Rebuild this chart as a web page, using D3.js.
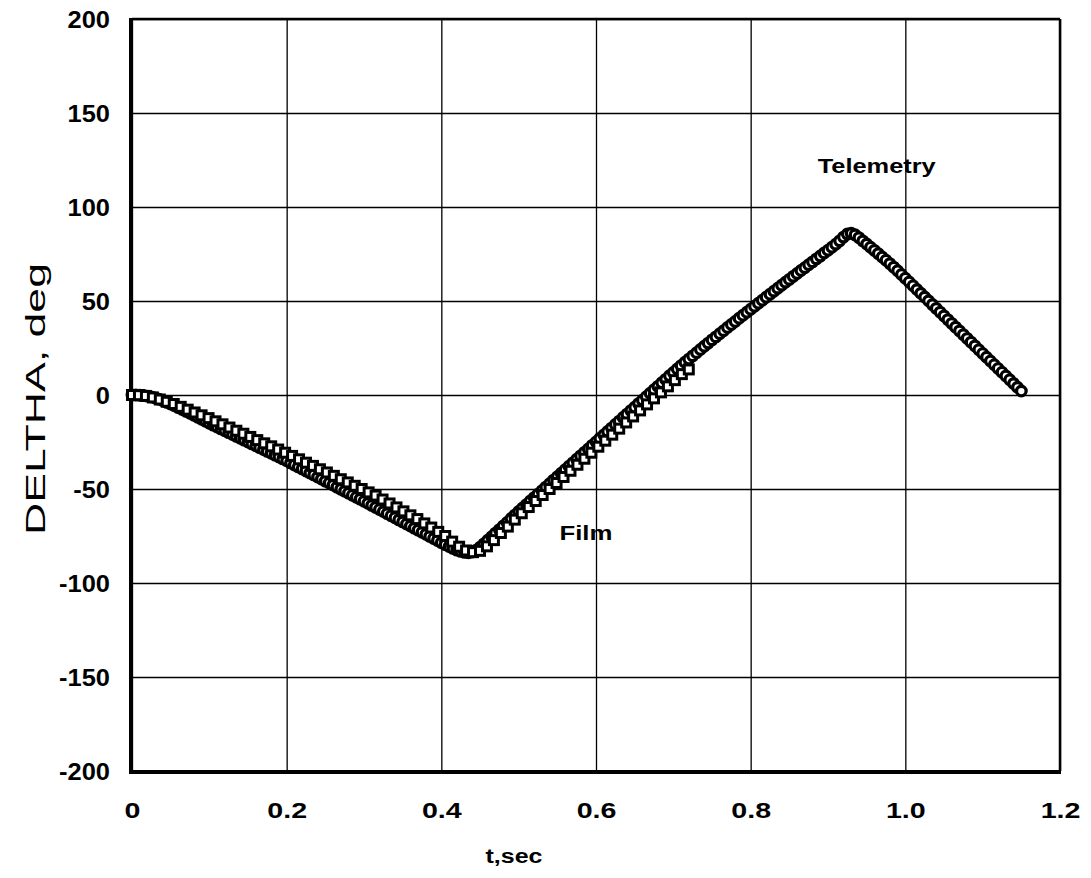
<!DOCTYPE html>
<html>
<head>
<meta charset="utf-8">
<script src="https://cdn.jsdelivr.net/npm/d3@7"></script>
<style>
  html, body { margin: 0; padding: 0; background: #fff; }
  svg { display: block; }
  text { font-family: "Liberation Sans", Arial, Helvetica, sans-serif; fill: #000; }
</style>
</head>
<body>
<svg id="chart" width="1091" height="878"></svg>
<script>
// Axis ticks
const xTicks = [0, 0.2, 0.4, 0.6, 0.8, 1.0, 1.2];
const xTickLabels = ["0", "0.2", "0.4", "0.6", "0.8", "1.0", "1.2"];
const yTicks = [-200, -150, -100, -50, 0, 50, 100, 150, 200];
const yTickLabels = ["-200", "-150", "-100", "-50", "0", "50", "100", "150", "200"];

// Telemetry: DELTHA (deg), sampled every 0.005 s from t = 0
const telemetryStart = 0;
const telemetryStep = 0.005;
const telemetryDeltha = [
  0.0, 0.0, -0.1, -0.3, -0.6, -1.0, -1.6, -2.2, -3.0, -3.9,
  -4.8, -5.7, -6.7, -7.7, -8.7, -9.7, -10.8, -11.8, -12.9, -13.9,
  -15.0, -16.0, -17.0, -18.0, -19.0, -20.0, -21.0, -22.0, -23.0, -24.0,
  -25.0, -26.0, -27.0, -28.0, -29.0, -30.0, -31.0, -32.0, -33.0, -34.0,
  -35.0, -36.1, -37.2, -38.2, -39.3, -40.4, -41.5, -42.5, -43.6, -44.7,
  -45.8, -46.8, -47.9, -49.0, -50.1, -51.1, -52.2, -53.3, -54.4, -55.4,
  -56.5, -57.6, -58.7, -59.8, -60.9, -62.0, -63.1, -64.2, -65.3, -66.4,
  -67.5, -68.6, -69.7, -70.8, -71.9, -73.0, -74.1, -75.2, -76.3, -77.4,
  -78.5, -79.6, -80.6, -81.6, -82.5, -83.2, -83.7, -83.9, -83.5, -82.5,
  -81.0, -79.2, -77.3, -75.4, -73.5, -71.6, -69.7, -67.8, -65.8, -63.9,
  -62.0, -60.1, -58.3, -56.4, -54.6, -52.7, -50.9, -49.0, -47.2, -45.3,
  -43.5, -41.6, -39.8, -37.9, -36.1, -34.2, -32.4, -30.5, -28.7, -26.8,
  -25.0, -23.1, -21.3, -19.4, -17.6, -15.7, -13.9, -12.0, -10.2, -8.3,
  -6.5, -4.6, -2.8, -0.9, 0.9, 2.8, 4.6, 6.5, 8.3, 10.2,
  12.0, 13.8, 15.6, 17.4, 19.1, 20.8, 22.5, 24.2, 25.9, 27.6,
  29.3, 30.9, 32.6, 34.2, 35.9, 37.5, 39.1, 40.8, 42.4, 44.0,
  45.6, 47.2, 48.8, 50.4, 52.0, 53.6, 55.2, 56.8, 58.4, 60.0,
  61.5, 63.1, 64.6, 66.2, 67.7, 69.3, 70.8, 72.4, 73.9, 75.5,
  77.0, 78.6, 80.2, 82.0, 84.0, 85.6, 86.0, 85.2, 83.7, 82.0,
  80.3, 78.6, 76.9, 75.2, 73.4, 71.7, 69.9, 68.0, 66.1, 64.1,
  62.1, 60.1, 58.1, 56.1, 54.1, 52.1, 50.1, 48.1, 46.1, 44.1,
  42.1, 40.1, 38.1, 36.1, 34.1, 32.1, 30.1, 28.1, 26.1, 24.1,
  22.1, 20.1, 18.1, 16.1, 14.1, 12.1, 10.1, 8.1, 6.1, 4.1,
  2.1
];

// Film: DELTHA (deg), one reading per frame, every 0.009 s from t = 0
const filmStart = 0;
const filmStep = 0.009;
const filmDeltha = [
  0.0, -0.1, -0.5, -1.3, -2.4, -3.6, -4.8, -6.3, -7.8, -9.3,
  -10.8, -12.3, -14.0, -15.6, -17.3, -19.0, -20.6, -22.3, -24.0, -25.7,
  -27.3, -29.0, -30.7, -32.4, -34.2, -36.0, -37.7, -39.5, -41.2, -43.0,
  -44.8, -46.5, -48.3, -50.0, -51.8, -53.5, -55.6, -57.7, -59.8, -61.9,
  -64.0, -66.0, -68.3, -70.5, -72.8, -75.0, -78.0, -80.7, -82.7, -83.6,
  -82.9, -80.5, -77.2, -73.4, -70.0, -66.3, -62.9, -59.6, -56.4, -53.2,
  -50.0, -46.8, -43.6, -40.3, -37.1, -33.9, -30.7, -27.5, -24.3, -21.1,
  -17.9, -14.6, -11.4, -8.2, -5.0, -1.8, 1.4, 4.6, 7.9, 11.1,
  13.6
];

const seriesLabels = { telemetry: "Telemetry", film: "Film" };
const xTitle = "t,sec";
const yTitle = "DELTHA, deg";

const svg = d3.select("#chart");
const W = 1091, H = 878;
const margin = { left: 132, top: 19, right: W - 1060, bottom: H - 771 };
const plotW = W - margin.left - margin.right;
const plotH = H - margin.top - margin.bottom;

svg.append("rect").attr("width", W).attr("height", H).attr("fill", "#fff");

const x = d3.scaleLinear().domain([0, 1.2]).range([0, plotW]);
const y = d3.scaleLinear().domain([-200, 200]).range([plotH, 0]);

const g = svg.append("g").attr("transform", `translate(${margin.left},${margin.top})`);

// Stretch a text element horizontally by a factor (wide, heavy lettering)
function widen(sel, factor) {
  sel.each(function () {
    const w = this.getComputedTextLength();
    d3.select(this).attr("textLength", w * factor).attr("lengthAdjust", "spacingAndGlyphs");
  });
}

// Grid + tick labels via axes
const xAxis = d3.axisBottom(x)
  .tickValues(xTicks)
  .tickSizeInner(-plotH)
  .tickSizeOuter(0)
  .tickPadding(31)
  .tickFormat((d, i) => xTickLabels[i]);

const yAxis = d3.axisLeft(y)
  .tickValues(yTicks)
  .tickSizeInner(-plotW)
  .tickSizeOuter(0)
  .tickPadding(22)
  .tickFormat((d, i) => yTickLabels[i]);

const gx = g.append("g").attr("transform", `translate(0,${plotH})`).call(xAxis);
const gy = g.append("g").call(yAxis);

[gx, gy].forEach(a => {
  a.select(".domain").remove();
  a.selectAll(".tick line").attr("stroke", "#000").attr("stroke-width", 1.3);
  a.selectAll(".tick text")
    .attr("fill", "#000")
    .style("font-family", "'Liberation Sans', Arial, sans-serif")
    .style("font-weight", "bold");
});
gy.selectAll(".tick text").style("font-size", "24px").attr("dy", "0.36em");
gx.selectAll(".tick text").style("font-size", "22px").attr("dy", "0.72em");
widen(gy.selectAll(".tick text"), 1.06);
widen(gx.selectAll(".tick text"), 1.3);

// Frame: heavier left and bottom edges
g.append("line").attr("x1", 0).attr("x2", plotW).attr("y1", 0).attr("y2", 0)
  .attr("stroke", "#000").attr("stroke-width", 2.5);
g.append("line").attr("x1", plotW).attr("x2", plotW).attr("y1", 0).attr("y2", plotH)
  .attr("stroke", "#000").attr("stroke-width", 2.5);
g.append("line").attr("x1", -1).attr("x2", -1).attr("y1", -1).attr("y2", plotH + 2)
  .attr("stroke", "#000").attr("stroke-width", 4);
g.append("line").attr("x1", -3).attr("x2", plotW + 1).attr("y1", plotH + 1).attr("y2", plotH + 1)
  .attr("stroke", "#000").attr("stroke-width", 4);

// Telemetry: open circles
const telemetry = telemetryDeltha.map((v, i) => ({ t: telemetryStart + i * telemetryStep, v }));
g.append("g").selectAll("circle").data(telemetry).join("circle")
  .attr("cx", d => x(d.t))
  .attr("cy", d => y(d.v))
  .attr("r", 4.8)
  .attr("fill", "#fff")
  .attr("stroke", "#000")
  .attr("stroke-width", 3.3);

// Film: open squares, drawn over the telemetry
const film = filmDeltha.map((v, i) => ({ t: filmStart + i * filmStep, v }));
const sq = 9;
g.append("g").selectAll("rect").data(film).join("rect")
  .attr("x", d => x(d.t) - sq / 2)
  .attr("y", d => y(d.v) - sq / 2)
  .attr("width", sq)
  .attr("height", sq)
  .attr("fill", "#fff")
  .attr("stroke", "#000")
  .attr("stroke-width", 3);

// Series labels
g.append("text")
  .attr("x", x(0.963)).attr("y", y(121))
  .attr("text-anchor", "middle").attr("dominant-baseline", "middle")
  .style("font-weight", "bold").style("font-size", "21px")
  .attr("textLength", 118).attr("lengthAdjust", "spacingAndGlyphs")
  .text(seriesLabels.telemetry);

g.append("text")
  .attr("x", x(0.587)).attr("y", y(-74))
  .attr("text-anchor", "middle").attr("dominant-baseline", "middle")
  .style("font-weight", "bold").style("font-size", "21px")
  .attr("textLength", 53).attr("lengthAdjust", "spacingAndGlyphs")
  .text(seriesLabels.film);

// Axis titles
svg.append("text")
  .attr("x", 514).attr("y", 858)
  .attr("text-anchor", "middle").attr("dominant-baseline", "middle")
  .style("font-weight", "bold").style("font-size", "20px")
  .attr("textLength", 57).attr("lengthAdjust", "spacingAndGlyphs")
  .text(xTitle);

svg.append("text")
  .attr("transform", `translate(38,399) rotate(-90)`)
  .attr("text-anchor", "middle").attr("dominant-baseline", "middle")
  .style("font-size", "27px")
  .attr("textLength", 272).attr("lengthAdjust", "spacingAndGlyphs")
  .text(yTitle);
</script>
</body>
</html>
